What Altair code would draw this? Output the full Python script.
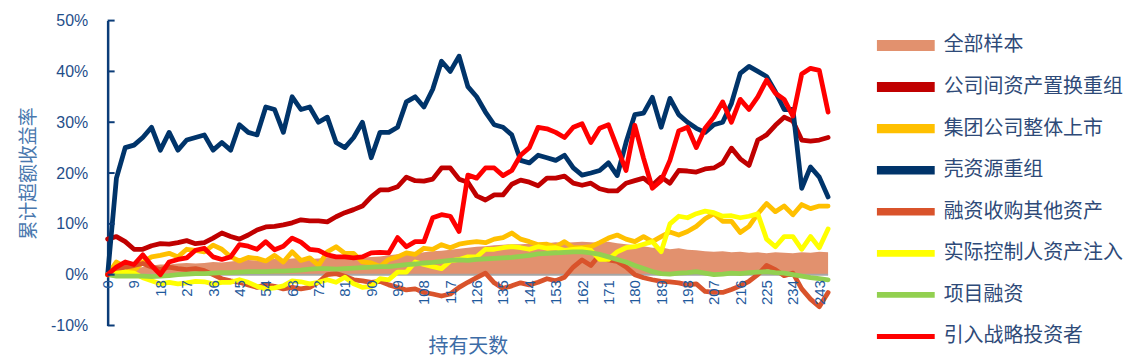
import altair as alt
import pandas as pd

# ---------------- data ----------------
days = list(range(0, 247, 3))  # holding days sampled every 3 days

series_names = ["全部样本", "公司间资产置换重组", "集团公司整体上市", "壳资源重组",
                "融资收购其他资产", "实际控制人资产注入", "项目融资", "引入战略投资者"]

# cumulative excess return, in percent
all_sample = [0, 0.5, 1, 1.2, 1.5, 1.8, 2, 2, 2.2, 2.3,
              2.2, 2.3, 2.5, 2.4, 2.6, 2.8, 2.9, 2.8, 3, 3.1,
              3, 3.2, 3.3, 3.1, 3.2, 3.4, 3.3, 3.4, 3.5, 3.4,
              3.5, 3.6, 3.8, 4, 4.2, 4.1, 4.4, 4.6, 4.7, 4.9,
              5.1, 5.3, 5.5, 5.6, 5.8, 5.9, 6, 6, 6.1, 6.3,
              6.2, 6.4, 6.3, 6.4, 6.5, 6.4, 6.3, 6.5, 6.2, 6,
              5.8, 5.6, 5.3, 5.4, 5, 5.2, 4.9, 4.8, 4.6, 4.5,
              4.6, 4.4, 4.5, 4.3, 4.4, 4.2, 4.4, 4.3, 4.2, 4.4,
              4.3, 4.5, 4.4]

asset_swap = [7, 7.5, 6.5, 5, 5, 5.7, 6.1, 6, 6.3, 6.7,
              6.1, 6.3, 7.2, 8.2, 7.5, 7, 7.8, 8.8, 9.4, 9.5,
              9.8, 10.2, 10.8, 10.6, 10.6, 10.4, 11.4, 12.2, 12.8, 13.5,
              15.3, 16.7, 16.7, 17.3, 19.2, 18.5, 18.4, 18.8, 21, 21,
              18.8, 18.2, 15.5, 14.7, 15.7, 15.7, 17.8, 18.6, 18.2, 17.5,
              19, 19, 19.4, 18, 17.6, 18, 16.9, 16.5, 16.5, 18,
              18.5, 19, 17.6, 19.2, 18, 20.5, 20.4, 20.2, 20.8, 21,
              22, 24.9, 22.8, 21.5, 26.5, 27.5, 29.4, 31, 30.2, 26.5,
              26.3, 26.5, 27]

group_listing = [0, 2.5, 1.5, 0.8, 2.5, 3.5, 3.8, 4.2, 3.5, 5,
                 4.8, 4.5, 5.8, 5, 3.5, 2.7, 3.4, 3.2, 2.7, 3.8,
                 2.5, 4.5, 2.8, 3.3, 1.8, 4.5, 5.5, 4.2, 4.2, 2.5,
                 2.3, 1.6, 3, 3.5, 4.3, 4, 5.2, 5, 5.9, 5.3,
                 6, 6.3, 6.5, 6.3, 7, 7.3, 8.2, 7, 6.5, 5.9,
                 6, 5.5, 6.5, 5.3, 5.3, 5.5, 6.3, 7.2, 7.8, 7,
                 6.5, 7.5, 6.5, 7.5, 8.4, 7.8, 8.5, 9.5, 11, 12,
                 10.5, 10.5, 8.3, 9.5, 12, 14, 12.4, 13.5, 11.8, 13.8,
                 13, 13.5, 13.5]

shell = [0, 19, 25, 25.5, 27, 29, 24.5, 28, 24.5, 26.5,
         27, 27.5, 24.5, 26, 24.5, 29.5, 28, 27.5, 33, 32.5,
         28, 35, 32.5, 33, 30, 31, 26, 25, 27, 30,
         23, 28, 28, 29, 34, 35, 33, 36.5, 42, 40,
         43, 37, 35, 32, 29.5, 29, 27.5, 22.5, 22, 23.5,
         23, 22.5, 23.5, 21, 19.6, 20, 20.5, 22, 19.5, 26,
         31.5, 31.8, 34.9, 29, 34.7, 31.5, 30, 28.8, 28, 29.5,
         30, 33.7, 39.6, 41, 40, 39, 36, 32.5, 32.5, 17,
         21.2, 19.2, 15.3]

financing_acq = [0, 0.8, 1.5, 1.8, 2.2, 1.5, 1, 1.5, 1.2, 1,
                 1.2, 0.8, 0, -0.8, -1.2, -1.5, -2, -2.5, -2, -2.3,
                 -2.8, -2.5, -2.8, -2.5, -1.5, 0, 0.2, -0.3, -1, -1.2,
                 -1.5, -1.3, -2, -2.5, -3, -2.8, -3.5, -3.8, -4.2, -3.8,
                 -2.5, -1.5, -0.6, 0.3, -1.6, -2.7, -2.2, -1.6, -2, -1.5,
                 -0.8, -1.2, -0.5, 1.5, 2.9, 1.8, 3.9, 2.9, 2.6, 1.5,
                 0, -0.6, -1, -1.3, -1.4, -1.6, -2, -1.8, -3.3, -3.5,
                 -3.5, -2.9, -2.2, -1.3, 0, 1.8, 1, -0.2, 0.3, -2.8,
                 -4.8, -6.3, -3.5]

controller_inject = [0, 0.3, 0.5, 0.3, -0.6, -1.2, -1.8, -1.5, -1.8, -1.6,
                     -1.3, -1.4, -1.8, -1.5, -1.5, -1, -1.5, -2.3, -2.8, -2.6,
                     -2.2, -1.2, -1.4, -1.8, -1.5, -1, -1.5, -0.5, -1.8, -2.5,
                     -2.3, -0.8, -1, 0.5, 0.5, 2.5, 2, 1.6, 1.2, 2.7,
                     3, 3.5, 3.5, 5, 5, 5.3, 5.5, 5.3, 5, 5.5,
                     5.2, 5.3, 4.8, 5, 5.1, 4.8, 3, 3, 4.5, 5.3,
                     5.5, 6, 6.5, 4.5, 10, 11.5, 11.2, 12, 12.5, 12.2,
                     11.5, 11.6, 11.2, 11.5, 12, 7, 5.5, 7.5, 7.5, 5,
                     7.5, 5.3, 9]

project_fin = [0, -0.3, -0.3, -0.3, -0.3, -0.4, -0.3, -0.2, 0, 0.1,
               0.2, 0.2, 0.3, 0.4, 0.4, 0.5, 0.6, 0.6, 0.6, 0.7,
               0.7, 0.8, 0.9, 1.1, 1.2, 1.2, 1.1, 1.2, 1.3, 1.4,
               1.5, 1.6, 1.6, 1.8, 2, 2.1, 2.3, 2.4, 2.6, 2.8,
               2.9, 2.8, 3, 3.1, 3.2, 3.3, 3.4, 3.6, 3.8, 4.1,
               4.2, 4.3, 4.4, 4.5, 4.5, 4.3, 4.0, 3.5, 3.0, 2.5,
               1.8, 1.2, 0.6, 0.2, 0.1, 0.3, 0.4, 0.6, 0.3, 0,
               0.1, 0.3, 0.2, 0.4, 0.5, 0.6, 0.4, 0.3, 0, -0.3,
               -0.6, -0.8, -1]

strategic = [0, 1.5, 2.5, 2, 3.9, 1.8, 0, 2.5, 3, 3.3,
             4.8, 5.2, 3.5, 3, 3.5, 5.9, 5.6, 5, 6.5, 4.9,
             5.6, 7.2, 6.4, 5, 4.8, 3.9, 3.5, 3.5, 3.3, 3.5,
             4.3, 4.4, 4.3, 7.3, 5.5, 6.5, 6.5, 11.2, 11.8, 11.5,
             8.5, 19.6, 19, 21, 21, 19.5, 20.5, 23.5, 25, 29,
             28.7, 28, 27, 29, 29.7, 26, 28.8, 29.5, 25, 20.5,
             29.4, 22.9, 17, 18.5, 22.5, 28.3, 29, 25, 28.8, 31,
             34, 30, 34.5, 32.5, 35, 38.3, 35.7, 34.5, 31.2, 39.5,
             40.6, 40.2, 32]

series_values = [all_sample, asset_swap, group_listing, shell,
                 financing_acq, controller_inject, project_fin, strategic]

y_ticks = [-0.1, 0, 0.1, 0.2, 0.3, 0.4, 0.5]
x_ticks = list(range(0, 244, 9))

colors = ["#E2916E", "#C00000", "#FFC000", "#00346A",
          "#D9532B", "#FFFF00", "#92D050", "#FF0000"]

NAVY = "#0B3C78"
NUM_FONT = "Liberation Sans"
CJK_FONT = "Noto Sans CJK SC"

rows = []
for name, vals in zip(series_names, series_values):
    for d, v in zip(days, vals):
        rows.append({"series": name, "day": d, "value": v / 100.0})
df = pd.DataFrame(rows)

# ---------------- main plot ----------------
x_enc = alt.X(
    "day:Q",
    scale=alt.Scale(domain=[0, 246], nice=False, zero=False),
    axis=alt.Axis(
        values=x_ticks, labelAngle=270, offset=-51, zindex=1,
        domain=False, ticks=False, grid=False,
        labelColor="#1F5A9C", labelFont=NUM_FONT, labelFontSize=15,
        labelPadding=5, labelOverlap=False, labelFlush=False,
        title="持有天数", titleFont=CJK_FONT, titleFontSize=20,
        titleFontWeight="normal", titleColor="#3D6CA6", titlePadding=32,
    ),
)
y_enc = alt.Y(
    "value:Q",
    scale=alt.Scale(domain=[-0.1, 0.5], nice=False, zero=False),
    axis=alt.Axis(
        values=y_ticks, format=".0%", grid=False, ticks=False,
        labelExpr="replace(datum.label, '\u2212', '-')",
        domainColor=NAVY, domainWidth=2.5,
        labelColor="#1F4E8A", labelFont=NUM_FONT, labelFontSize=16,
        labelPadding=20,
        title="累计超额收益率", titleFont=CJK_FONT, titleFontSize=19,
        titleFontWeight="normal", titleColor="#4A78AE", titlePadding=12,
    ),
)

area = (
    alt.Chart(df)
    .transform_filter(alt.datum.series == series_names[0])
    .mark_area(color=colors[0], opacity=1)
    .encode(x=x_enc, y=y_enc)
)

zero_df = pd.DataFrame({"value": [0.0]})
zero_line = alt.Chart(zero_df).mark_rule(color="#A6A6A6", strokeWidth=2).encode(y=y_enc)

line_layers = []
for name, col in zip(series_names[1:], colors[1:]):
    line_layers.append(
        alt.Chart(df)
        .transform_filter(alt.datum.series == name)
        .mark_line(color=col, strokeWidth=4.8, strokeJoin="round", strokeCap="round")
        .encode(x=x_enc, y=y_enc)
    )

tick_df = pd.DataFrame({"value": y_ticks})
inner_ticks = (
    alt.Chart(tick_df)
    .mark_rule(color=NAVY, strokeWidth=2)
    .encode(y=y_enc, x=alt.value(0), x2=alt.value(7))
)

main = alt.layer(area, zero_line, *line_layers, inner_ticks).properties(width=723, height=306)

# ---------------- legend ----------------
legend_df = pd.DataFrame({"series": series_names})
leg_y = alt.Y("series:N", sort=series_names,
              scale=alt.Scale(type="point", domain=series_names, range=[25, 317], padding=0),
              axis=None)
leg_color = alt.Color("series:N", scale=alt.Scale(domain=series_names, range=colors), legend=None)

leg_sym = (
    alt.Chart(legend_df)
    .mark_rule()
    .encode(
        y=leg_y, x=alt.value(8), x2=alt.value(66), color=leg_color,
        strokeWidth=alt.StrokeWidth("series:N",
                                    scale=alt.Scale(domain=series_names,
                                                    range=[11, 5, 5, 5, 6, 5, 5, 5]),
                                    legend=None),
    )
)
leg_text = (
    alt.Chart(legend_df)
    .mark_text(align="left", baseline="middle", font=CJK_FONT, fontSize=20, color="#2E4A78")
    .encode(y=leg_y, x=alt.value(75), text="series:N")
)
legend = alt.layer(leg_sym, leg_text).properties(width=265, height=306)

chart = (
    alt.hconcat(main, legend, spacing=38)
    .properties(padding={"left": 11, "top": 4, "right": 2, "bottom": 2})
    .configure_view(stroke=None)
)

chart.save("out.html", embed_options={"renderer": "svg", "actions": False})
